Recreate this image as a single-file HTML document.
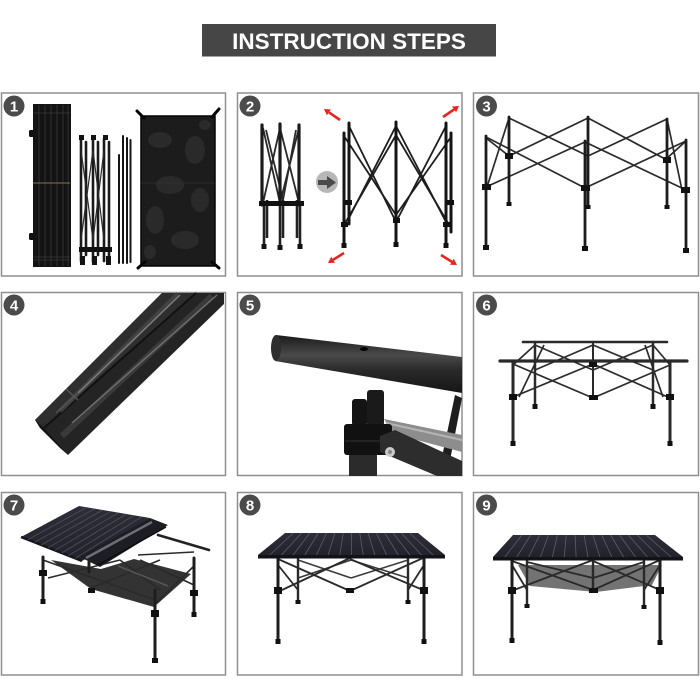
<!DOCTYPE html>
<html><head><meta charset="utf-8"><style>
html,body{margin:0;padding:0;background:#fff;}
svg{display:block}
</style></head><body>
<svg width="700" height="700" viewBox="0 0 700 700" xmlns="http://www.w3.org/2000/svg">
<defs>
<linearGradient id="tubeG" x1="0" y1="0" x2="0" y2="1">
<stop offset="0" stop-color="#1a1a1a"/><stop offset="0.35" stop-color="#4a4a4a"/><stop offset="0.6" stop-color="#2a2a2a"/><stop offset="1" stop-color="#151515"/>
</linearGradient>
<linearGradient id="topG" x1="0" y1="0" x2="0" y2="1">
<stop offset="0" stop-color="#2e2e3a"/><stop offset="1" stop-color="#22222b"/>
</linearGradient>
</defs>
<rect width="700" height="700" fill="#fff"/>
<!-- Title -->
<rect x="202" y="24" width="294" height="32.5" fill="#464646"/>
<text x="349" y="49" font-family="'Liberation Sans', Arial, sans-serif" font-weight="bold" font-size="22.5" fill="#fff" text-anchor="middle">INSTRUCTION STEPS</text>

<!-- Panel frames -->
<g fill="none" stroke="#8f8f8f" stroke-width="1.5">
<rect x="1.5" y="93" width="224" height="183"/>
<rect x="237.5" y="93" width="224.5" height="183"/>
<rect x="473.5" y="93" width="225" height="183"/>
<rect x="1.5" y="292.5" width="224" height="183"/>
<rect x="237.5" y="292.5" width="224.5" height="183"/>
<rect x="473.5" y="292.5" width="225" height="183"/>
<rect x="1.5" y="492.5" width="224" height="182.5"/>
<rect x="237.5" y="492.5" width="224.5" height="182.5"/>
<rect x="473.5" y="492.5" width="225" height="182.5"/>
</g>

<!-- ========== Panel 1 ========== -->
<g>
<rect x="33" y="104" width="38" height="163" fill="#131313"/>
<g stroke="#303030" stroke-width="1">
<line x1="39" y1="105" x2="39" y2="266"/><line x1="45" y1="105" x2="45" y2="266"/>
<line x1="51" y1="105" x2="51" y2="266"/><line x1="57" y1="105" x2="57" y2="266"/>
<line x1="63" y1="105" x2="63" y2="266"/><line x1="68" y1="105" x2="68" y2="266"/>
</g>
<g stroke="#3a3a3a" stroke-width="0.8">
<line x1="34" y1="113" x2="70" y2="113"/><line x1="34" y1="257" x2="70" y2="257"/>
<line x1="34" y1="260" x2="70" y2="260"/>
</g>
<line x1="33" y1="183" x2="70" y2="183" stroke="#8a7448" stroke-width="1"/>
<rect x="29" y="130" width="5" height="7" rx="1.5" fill="#111"/>
<rect x="29" y="233" width="5" height="7" rx="1.5" fill="#111"/>
<!-- leg bundle -->
<g stroke="#1a1a1a" stroke-width="2.6" stroke-linecap="round">
<line x1="81" y1="139" x2="81" y2="261"/><line x1="86" y1="142" x2="86" y2="255"/>
<line x1="93" y1="138" x2="93" y2="262"/><line x1="98" y1="142" x2="98" y2="255"/>
<line x1="104" y1="139" x2="104" y2="261"/><line x1="109" y1="142" x2="109" y2="258"/>
</g>
<g stroke="#2a2a2a" stroke-width="1.2">
<line x1="81" y1="150" x2="93" y2="240"/><line x1="93" y1="150" x2="81" y2="240"/>
<line x1="93" y1="150" x2="104" y2="240"/><line x1="104" y1="150" x2="93" y2="240"/>
</g>
<g fill="#111">
<rect x="79" y="135" width="5" height="5"/><rect x="91" y="135" width="5" height="5"/><rect x="103" y="135" width="5" height="5"/>
<rect x="80" y="256" width="5" height="9"/><rect x="92" y="256" width="5" height="9"/><rect x="106" y="256" width="5" height="9"/>
<rect x="79" y="247" width="33" height="5"/>
</g>
<!-- poles -->
<g stroke="#151515" stroke-width="2" stroke-linecap="round">
<line x1="119" y1="155" x2="119" y2="263"/><line x1="123" y1="136" x2="123" y2="263"/>
<line x1="127" y1="138" x2="127" y2="263"/><line x1="130.5" y1="140" x2="130.5" y2="262"/>
</g>
<!-- mesh -->
<rect x="141" y="116" width="74" height="150" fill="#1c1c1c" stroke="#050505" stroke-width="1.5"/>
<g fill="#3b3b3b" opacity="0.45">
<ellipse cx="160" cy="140" rx="12" ry="8"/><ellipse cx="195" cy="150" rx="10" ry="14"/>
<ellipse cx="170" cy="185" rx="14" ry="9"/><ellipse cx="200" cy="200" rx="9" ry="12"/>
<ellipse cx="155" cy="220" rx="9" ry="14"/><ellipse cx="185" cy="240" rx="14" ry="9"/>
<ellipse cx="205" cy="125" rx="6" ry="5"/><ellipse cx="150" cy="252" rx="6" ry="7"/>
</g>
<line x1="141" y1="183" x2="215" y2="183" stroke="#333" stroke-width="0.8"/>
<g stroke="#050505" stroke-width="3" stroke-linecap="round">
<line x1="137" y1="111" x2="144" y2="118"/><line x1="219" y1="109" x2="212" y2="117"/>
<line x1="138" y1="268" x2="145" y2="262"/><line x1="219" y1="268" x2="212" y2="262"/>
</g>
</g>

<!-- ========== Panel 2 ========== -->
<g>
<g stroke="#2a2a2a" stroke-width="1.8">
<line x1="263" y1="128" x2="280" y2="203"/><line x1="280" y1="128" x2="263" y2="203"/>
<line x1="280" y1="128" x2="299" y2="203"/><line x1="299" y1="128" x2="280" y2="203"/>
<line x1="266" y1="130" x2="283" y2="200"/><line x1="296" y1="130" x2="283" y2="200"/>
</g>
<g stroke="#1b1b1b" stroke-width="3.2" stroke-linecap="round">
<line x1="262" y1="125" x2="262" y2="205"/><line x1="280" y1="124" x2="280" y2="205"/><line x1="299" y1="125" x2="299" y2="205"/>
</g>
<g stroke="#222" stroke-width="2.6">
<line x1="264" y1="205" x2="264" y2="247"/><line x1="280" y1="205" x2="280" y2="248"/><line x1="300" y1="205" x2="300" y2="247"/>
<line x1="267" y1="200" x2="267" y2="238"/><line x1="283" y1="200" x2="283" y2="238"/><line x1="297" y1="200" x2="297" y2="238"/>
</g>
<g fill="#111">
<rect x="259" y="201" width="45" height="5"/>
<rect x="261.5" y="244" width="5" height="5"/><rect x="277.5" y="245" width="5" height="5"/><rect x="297.5" y="244" width="5" height="5"/>
</g>
<circle cx="327" cy="182" r="11" fill="#b7b7b7"/>
<rect x="318" y="180" width="10" height="5" fill="#4a4a4a"/>
<polygon points="327,176 336,182.5 327,189" fill="#4a4a4a"/>
<g stroke="#1e1e1e" stroke-width="1.8">
<line x1="349" y1="126" x2="396" y2="222"/><line x1="349" y1="218" x2="396" y2="126"/>
<line x1="344" y1="136" x2="396" y2="215"/><line x1="344" y1="225" x2="396" y2="135"/>
<line x1="396" y1="126" x2="446" y2="222"/><line x1="396" y1="222" x2="446" y2="126"/>
<line x1="396" y1="135" x2="451" y2="228"/><line x1="396" y1="215" x2="451" y2="137"/>
</g>
<g stroke="#151515" stroke-width="3" stroke-linecap="round">
<line x1="344" y1="133" x2="344" y2="246"/><line x1="349" y1="123" x2="349" y2="224"/>
<line x1="396" y1="122" x2="396" y2="245"/><line x1="446" y1="123" x2="446" y2="246"/>
<line x1="451" y1="133" x2="451" y2="232"/>
</g>
<g fill="#111">
<rect x="341" y="222" width="7" height="5"/><rect x="345" y="200" width="7" height="5"/>
<rect x="393" y="218" width="7" height="5"/><rect x="443" y="222" width="8" height="5"/><rect x="447" y="200" width="7" height="5"/>
<rect x="341.5" y="243" width="5" height="5"/><rect x="393.5" y="242" width="5" height="5"/><rect x="443.5" y="243" width="5" height="5"/>
</g>
<g stroke="#e3241f" stroke-width="2.6">
<line x1="340" y1="120" x2="329" y2="112.4"/>
<line x1="443" y1="117" x2="454.1" y2="109.4"/>
<line x1="344" y1="253" x2="333.1" y2="259.8"/>
<line x1="441" y1="255" x2="451.9" y2="261.8"/>
</g>
<g fill="#e3241f">
<polygon points="324,109 330.9,109.5 326.9,115.3"/>
<polygon points="459,106 456.1,112.3 452.1,106.5"/>
<polygon points="328,263 335,262.8 331.2,256.8"/>
<polygon points="457,265 450,264.8 453.8,258.8"/>
</g>
</g>

<!-- ========== Panel 3 ========== -->
<g stroke="#2a2a2a" stroke-width="1.7">
<line x1="509" y1="118" x2="588" y2="156"/><line x1="509" y1="156" x2="588" y2="118"/>
<line x1="588" y1="118" x2="667" y2="160"/><line x1="588" y1="156" x2="667" y2="119"/>
<line x1="486" y1="137" x2="585" y2="188"/><line x1="486" y1="187" x2="585" y2="142"/>
<line x1="585" y1="142" x2="686" y2="190"/><line x1="585" y1="188" x2="686" y2="141"/>
<line x1="509" y1="118" x2="487" y2="187"/><line x1="486" y1="138" x2="509" y2="156"/>
<line x1="667" y1="119" x2="682" y2="190"/><line x1="686" y1="141" x2="665" y2="160"/>
</g>
<g stroke="#1c1c1c" stroke-width="2.8" stroke-linecap="round">
<line x1="486" y1="136" x2="486" y2="248"/><line x1="509" y1="117" x2="509" y2="204"/>
<line x1="588" y1="117" x2="588" y2="207"/><line x1="585" y1="141" x2="585" y2="249"/>
<line x1="667" y1="119" x2="667" y2="207"/><line x1="686" y1="140" x2="686" y2="251"/>
</g>
<g fill="#111">
<rect x="482" y="184" width="9" height="6"/><rect x="505" y="153" width="8" height="6"/>
<rect x="581" y="185" width="9" height="6"/><rect x="663" y="157" width="8" height="6"/>
<rect x="681" y="187" width="9" height="6"/>
<rect x="483" y="245" width="6" height="5"/><rect x="582" y="246" width="6" height="5"/><rect x="683" y="248" width="6" height="5"/>
<rect x="506.5" y="202" width="5" height="4"/><rect x="585.5" y="205" width="5" height="4"/><rect x="664.5" y="205" width="5" height="4"/>
</g>

<!-- ========== Panel 4 ========== -->
<g>
<polygon points="35,420 162,293 224,293 224,304 68,455" fill="#242424"/>
<polygon points="35,420 162,293 196,293 44,428" fill="#2e2e2e"/>
<line x1="44" y1="428" x2="196" y2="293" stroke="#111" stroke-width="2"/>
<line x1="60" y1="411" x2="178" y2="294" stroke="#4a4a4a" stroke-width="5" opacity="0.7"/>
<line x1="78" y1="393" x2="180" y2="295" stroke="#8a8a8a" stroke-width="1.4" opacity="0.85"/>
<line x1="56" y1="413" x2="78" y2="393" stroke="#555" stroke-width="1.2"/>
<line x1="62" y1="436" x2="212" y2="296" stroke="#444" stroke-width="6" opacity="0.7"/>
<line x1="72" y1="423" x2="217" y2="295" stroke="#7a7a7a" stroke-width="1.4" opacity="0.85"/>
<line x1="66" y1="389" x2="78" y2="400" stroke="#555" stroke-width="1.5"/>
<polygon points="35,420 44,428 68,455 60,448 40,428" fill="#151515"/>
</g>

<!-- ========== Panel 5 ========== -->
<g>
<polygon points="455,395 462,398 447,476 438,476" fill="#1e1e1e"/>
<polygon points="276,335 462,357 462,393 275,361" fill="url(#tubeG)"/>
<ellipse cx="276" cy="348" rx="5" ry="13" fill="#2e2e2e"/>
<ellipse cx="364" cy="349" rx="4" ry="2" fill="#050505"/>
<polygon points="384,419 462,435 462,452 394,434" fill="#8d8d8d"/>
<line x1="386" y1="423" x2="462" y2="440" stroke="#b5b5b5" stroke-width="2"/>
<rect x="352" y="399" width="15" height="27" rx="3" fill="#141414"/>
<rect x="367" y="390" width="17" height="36" rx="3" fill="#1a1a1a"/>
<rect x="344" y="424" width="48" height="31" rx="3" fill="#111"/>
<line x1="345" y1="441" x2="391" y2="441" stroke="#333" stroke-width="1"/>
<rect x="349" y="455" width="28" height="21" fill="#2b2b2b"/>
<polygon points="380,436 395,430 462,461 462,476 437,476 380,452" fill="#2d2d2d"/>
<circle cx="390" cy="452" r="5" fill="#c9c9c9"/>
<circle cx="390" cy="452" r="2" fill="#888"/>
</g>

<!-- ========== Panel 6 ========== -->
<g stroke="#2c2c2c" stroke-width="1.7">
<line x1="535" y1="345" x2="593" y2="370"/><line x1="535" y1="370" x2="593" y2="345"/>
<line x1="593" y1="345" x2="653" y2="370"/><line x1="593" y1="370" x2="653" y2="345"/>
<line x1="513" y1="364" x2="593" y2="398"/><line x1="513" y1="397" x2="593" y2="364"/>
<line x1="593" y1="364" x2="670" y2="398"/><line x1="593" y1="398" x2="670" y2="365"/>
<line x1="513" y1="365" x2="535" y2="345"/><line x1="670" y1="365" x2="653" y2="345"/>
<line x1="519" y1="397" x2="544" y2="345"/><line x1="663" y1="397" x2="645" y2="345"/>
</g>
<g stroke="#2a2a2a" stroke-linecap="round">
<line x1="523" y1="342" x2="667" y2="342" stroke-width="2.6"/>
<line x1="500" y1="361" x2="687" y2="361" stroke-width="3.2"/>
<line x1="513" y1="362" x2="513" y2="444" stroke-width="3"/>
<line x1="670" y1="362" x2="670" y2="444" stroke-width="3"/>
<line x1="535" y1="342" x2="535" y2="407" stroke-width="2.5"/>
<line x1="653" y1="342" x2="653" y2="407" stroke-width="2.5"/>
<line x1="593" y1="342" x2="593" y2="397" stroke-width="2"/>
</g>
<g fill="#111">
<rect x="509" y="394" width="8" height="6"/><rect x="666" y="394" width="8" height="6"/>
<rect x="589" y="395" width="9" height="5"/><rect x="589" y="362" width="8" height="5"/>
<rect x="510.5" y="441" width="5" height="5"/><rect x="667.5" y="441" width="5" height="5"/>
<rect x="532.5" y="404" width="5" height="5"/><rect x="650.5" y="404" width="5" height="5"/>
</g>

<!-- ========== Panel 7 ========== -->
<g>
<polygon points="51,560 91,589 154,607 191,574 134,559 101,569" fill="#333"/>
<g stroke="#2a2a2a" stroke-width="1.6">
<line x1="43" y1="560" x2="155" y2="600"/><line x1="48" y1="578" x2="120" y2="560"/>
<line x1="91" y1="588" x2="160" y2="560"/><line x1="155" y1="604" x2="194" y2="566"/>
<line x1="140" y1="560" x2="194" y2="585"/><line x1="120" y1="560" x2="160" y2="590"/>
<line x1="138" y1="555" x2="194" y2="552"/>
</g>
<line x1="158" y1="535" x2="209" y2="550" stroke="#222" stroke-width="2.6" stroke-linecap="round"/>
<line x1="118" y1="566" x2="168" y2="586" stroke="#555" stroke-width="1.5"/>
<g stroke="#1e1e1e" stroke-width="3" stroke-linecap="round">
<line x1="43" y1="557" x2="43" y2="602"/><line x1="194" y1="558" x2="194" y2="614"/>
<line x1="155" y1="590" x2="155" y2="661"/><line x1="89" y1="562" x2="89" y2="572"/>
</g>
<g fill="#111">
<rect x="39" y="570" width="8" height="6"/><rect x="190" y="590" width="8" height="6"/>
<rect x="151" y="610" width="8" height="7"/><rect x="88" y="588" width="7" height="5"/>
<rect x="152" y="658" width="6" height="5"/><rect x="40.5" y="599" width="5" height="5"/><rect x="191.5" y="612" width="5" height="5"/>
</g>
<polygon points="21,537 79,506 150,518 82,561" fill="url(#topG)"/>
<line x1="21" y1="537" x2="82" y2="561" stroke="#15151b" stroke-width="2.5"/>
<g stroke="#50505e" stroke-width="0.8">
<line x1="27.8" y1="539.7" x2="86.9" y2="507.3"/><line x1="34.6" y1="542.3" x2="94.8" y2="508.7"/>
<line x1="41.3" y1="545" x2="102.7" y2="510"/><line x1="48.1" y1="547.7" x2="110.6" y2="511.3"/>
<line x1="54.9" y1="550.3" x2="118.4" y2="512.7"/><line x1="61.7" y1="553" x2="126.3" y2="514"/>
<line x1="68.4" y1="555.7" x2="134.2" y2="515.3"/><line x1="75.2" y1="558.3" x2="142.1" y2="516.7"/>
</g>
<polygon points="80,557 150,518 168,525 100,567" fill="#1d1d24"/>
<line x1="86" y1="558" x2="152" y2="522" stroke="#6e6e78" stroke-width="2.5"/>
<line x1="98" y1="565" x2="166" y2="527" stroke="#0d0d0d" stroke-width="1.5"/>
</g>

<!-- ========== Panel 8 ========== -->
<g>
<g stroke="#3a3a3a" stroke-width="1.5">
<line x1="298" y1="560" x2="351" y2="578"/><line x1="298" y1="578" x2="351" y2="560"/>
<line x1="351" y1="560" x2="408" y2="578"/><line x1="351" y1="578" x2="408" y2="560"/>
</g>
<g stroke="#2a2a2a" stroke-width="1.8">
<line x1="278" y1="559" x2="350" y2="591"/><line x1="282" y1="590" x2="350" y2="558"/>
<line x1="350" y1="559" x2="423" y2="590"/><line x1="350" y1="591" x2="423" y2="558"/>
<line x1="278" y1="565" x2="298" y2="590"/><line x1="424" y1="565" x2="408" y2="590"/>
</g>
<g stroke="#1e1e1e" stroke-width="3" stroke-linecap="round">
<line x1="278" y1="558" x2="278" y2="642"/><line x1="424" y1="558" x2="424" y2="642"/>
</g>
<g stroke="#2a2a2a" stroke-width="2.4" stroke-linecap="round">
<line x1="298" y1="558" x2="298" y2="602"/><line x1="408" y1="558" x2="408" y2="602"/>
</g>
<g fill="#111">
<rect x="274" y="587" width="8" height="7"/><rect x="420" y="587" width="8" height="7"/>
<rect x="346" y="588" width="8" height="5"/>
<rect x="275.5" y="639" width="5" height="5"/><rect x="421.5" y="639" width="5" height="5"/>
<rect x="295.5" y="600" width="5" height="4"/><rect x="405.5" y="600" width="5" height="4"/>
</g>
<polygon points="285,533 418,533 445,555 258,555" fill="url(#topG)"/>
<rect x="258" y="555" width="187" height="3.5" fill="#121218"/>
<g stroke="#5c5c6a" stroke-width="0.8">
<line x1="293.3" y1="533" x2="269.7" y2="555"/><line x1="301.6" y1="533" x2="281.4" y2="555"/>
<line x1="309.9" y1="533" x2="293.1" y2="555"/><line x1="318.3" y1="533" x2="304.8" y2="555"/>
<line x1="326.6" y1="533" x2="316.4" y2="555"/><line x1="334.9" y1="533" x2="328.1" y2="555"/>
<line x1="343.2" y1="533" x2="339.8" y2="555"/><line x1="351.5" y1="533" x2="351.5" y2="555"/>
<line x1="359.8" y1="533" x2="363.2" y2="555"/><line x1="368.1" y1="533" x2="374.9" y2="555"/>
<line x1="376.4" y1="533" x2="386.6" y2="555"/><line x1="384.8" y1="533" x2="398.3" y2="555"/>
<line x1="393.1" y1="533" x2="409.9" y2="555"/><line x1="401.4" y1="533" x2="421.6" y2="555"/>
<line x1="409.7" y1="533" x2="433.3" y2="555"/>
</g>
</g>

<!-- ========== Panel 9 ========== -->
<g>
<polygon points="518,565 662,565 652,585 596,592 530,586" fill="#5a5a5a" opacity="0.85"/>
<g stroke="#2a2a2a" stroke-width="1.8">
<line x1="512" y1="561" x2="593" y2="590"/><line x1="514" y1="590" x2="593" y2="560"/>
<line x1="593" y1="561" x2="660" y2="590"/><line x1="593" y1="590" x2="660" y2="560"/>
<line x1="527" y1="562" x2="593" y2="578"/><line x1="644" y1="562" x2="593" y2="578"/>
<line x1="512" y1="565" x2="527" y2="590"/><line x1="660" y1="565" x2="644" y2="590"/>
</g>
<g stroke="#1e1e1e" stroke-width="3" stroke-linecap="round">
<line x1="512" y1="559" x2="512" y2="641"/><line x1="660" y1="559" x2="660" y2="643"/>
</g>
<g stroke="#2a2a2a" stroke-width="2.4" stroke-linecap="round">
<line x1="527" y1="559" x2="527" y2="606"/><line x1="644" y1="559" x2="644" y2="607"/>
<line x1="593" y1="559" x2="593" y2="590"/>
</g>
<g fill="#111">
<rect x="508" y="587" width="8" height="7"/><rect x="656" y="587" width="8" height="7"/>
<rect x="589" y="588" width="9" height="5"/>
<rect x="509.5" y="638" width="5" height="5"/><rect x="657.5" y="640" width="5" height="5"/>
<rect x="524.5" y="604" width="5" height="4"/><rect x="641.5" y="605" width="5" height="4"/>
</g>
<polygon points="513,535 655,535 683,557 493,557" fill="url(#topG)"/>
<rect x="493" y="557" width="190" height="3.5" fill="#121218"/>
<g stroke="#5c5c6a" stroke-width="0.8">
<line x1="521.9" y1="535" x2="504.9" y2="557"/><line x1="530.8" y1="535" x2="516.8" y2="557"/>
<line x1="539.6" y1="535" x2="528.6" y2="557"/><line x1="548.5" y1="535" x2="540.5" y2="557"/>
<line x1="557.4" y1="535" x2="552.4" y2="557"/><line x1="566.3" y1="535" x2="564.3" y2="557"/>
<line x1="575.1" y1="535" x2="576.1" y2="557"/><line x1="584" y1="535" x2="588" y2="557"/>
<line x1="592.9" y1="535" x2="599.9" y2="557"/><line x1="601.8" y1="535" x2="611.8" y2="557"/>
<line x1="610.6" y1="535" x2="623.6" y2="557"/><line x1="619.5" y1="535" x2="635.5" y2="557"/>
<line x1="628.4" y1="535" x2="647.4" y2="557"/><line x1="637.3" y1="535" x2="659.3" y2="557"/>
<line x1="646.1" y1="535" x2="671.1" y2="557"/>
</g>
</g>

<!-- Badges -->
<g font-family="'Liberation Sans', Arial, sans-serif" font-weight="bold" font-size="15" fill="#fff" text-anchor="middle">
<circle cx="14" cy="106" r="10.5" fill="#4b4b4b"/><text x="14" y="111.5">1</text>
<circle cx="250" cy="106" r="10.5" fill="#4b4b4b"/><text x="250" y="111.5">2</text>
<circle cx="486.5" cy="106" r="10.5" fill="#4b4b4b"/><text x="486.5" y="111.5">3</text>
<circle cx="14" cy="305" r="10.5" fill="#4b4b4b"/><text x="14" y="310.5">4</text>
<circle cx="250" cy="305" r="10.5" fill="#4b4b4b"/><text x="250" y="310.5">5</text>
<circle cx="486.5" cy="305" r="10.5" fill="#4b4b4b"/><text x="486.5" y="310.5">6</text>
<circle cx="14" cy="505" r="10.5" fill="#4b4b4b"/><text x="14" y="510.5">7</text>
<circle cx="250" cy="505" r="10.5" fill="#4b4b4b"/><text x="250" y="510.5">8</text>
<circle cx="486.5" cy="505" r="10.5" fill="#4b4b4b"/><text x="486.5" y="510.5">9</text>
</g>
</svg>
</body></html>
